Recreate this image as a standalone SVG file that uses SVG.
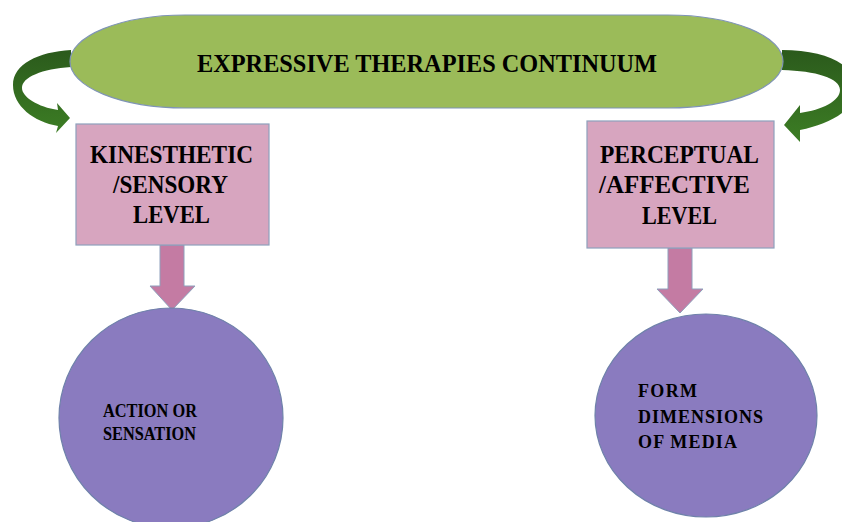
<svg xmlns="http://www.w3.org/2000/svg" width="842" height="522" viewBox="0 0 842 522">
  <style>
    .label { font-family: "Liberation Serif", "Times New Roman", serif; font-weight: bold; fill: #000; }
    .box { fill: #D7A5BF; stroke: #8EA0BC; stroke-width: 1.2; }
    .circle { fill: #8A7BBF; stroke: #6F82AA; stroke-width: 1.2; }
    .down { fill: #C47BA3; stroke: #8EA0BC; stroke-width: 1; }
    .curl { fill: url(#curlFill); }
  </style>
  <defs>
    <linearGradient id="curlFill" x1="0" y1="0" x2="0" y2="1">
      <stop offset="0" stop-color="#2B5A1C"/>
      <stop offset="1" stop-color="#3C7D24"/>
    </linearGradient>
  </defs>

  <rect width="842" height="522" fill="#fff"/>

  <!-- connectors: curled arrows from the banner and down arrows from the level boxes -->
  <g id="connectors">
    <path class="curl" d="M 71 50 C 38 52 13 64 13 85 C 13 106 34 122 58 126 L 56 133 L 70 118 L 57 103 L 58 110 C 38 107 22 97 22 88 C 22 77 42 69 71 67 Z"/>
    <path class="curl" d="M 782 50 C 828 50 856 66 856 88 C 856 110 830 124 800 130 L 800 142 L 784 125 L 800 105 L 800 113 C 822 110 840 101 840 90 C 840 78 816 71 782 70 Z"/>
    <path class="down" d="M 160 245 L 184 245 L 184 286 L 195 286 L 172 310 L 150 286 L 160 286 Z"/>
    <path class="down" d="M 668 248 L 692 248 L 692 289 L 703 289 L 680 313 L 657 289 L 668 289 Z"/>
  </g>

  <g id="continuum">
    <rect x="70" y="15" width="713" height="93" rx="115" ry="46.5" fill="#9BBB59" stroke="#7F94B6" stroke-width="1.2"/>
    <text class="label" x="197" y="72" font-size="25" textLength="460" lengthAdjust="spacingAndGlyphs">EXPRESSIVE THERAPIES CONTINUUM</text>
  </g>

  <g id="kinesthetic">
    <rect class="box" x="76" y="124" width="193" height="121"/>
    <text class="label" x="90" y="163" font-size="25" textLength="163" lengthAdjust="spacingAndGlyphs">KINESTHETIC</text>
    <text class="label" x="113" y="193" font-size="25" textLength="115" lengthAdjust="spacingAndGlyphs">/SENSORY</text>
    <text class="label" x="133" y="223" font-size="25" textLength="77" lengthAdjust="spacingAndGlyphs">LEVEL</text>
  </g>

  <g id="perceptual">
    <rect class="box" x="587" y="121" width="187" height="127"/>
    <text class="label" x="600" y="163" font-size="25" textLength="159" lengthAdjust="spacingAndGlyphs">PERCEPTUAL</text>
    <text class="label" x="599" y="193" font-size="25" textLength="151" lengthAdjust="spacingAndGlyphs">/AFFECTIVE</text>
    <text class="label" x="642" y="224" font-size="25" textLength="75" lengthAdjust="spacingAndGlyphs">LEVEL</text>
  </g>

  <g id="action">
    <ellipse class="circle" cx="171" cy="418" rx="112" ry="110"/>
    <text class="label" x="103" y="417" font-size="19" textLength="94" lengthAdjust="spacingAndGlyphs">ACTION OR</text>
    <text class="label" x="103" y="440" font-size="19" textLength="93" lengthAdjust="spacingAndGlyphs">SENSATION</text>
  </g>

  <g id="form">
    <ellipse class="circle" cx="706" cy="415.5" rx="111" ry="101.5"/>
    <text class="label" x="638" y="397" font-size="18" textLength="59" lengthAdjust="spacing">FORM</text>
    <text class="label" x="638" y="423" font-size="18" textLength="125" lengthAdjust="spacing">DIMENSIONS</text>
    <text class="label" x="638" y="448" font-size="18" textLength="99" lengthAdjust="spacing">OF MEDIA</text>
  </g>
</svg>
